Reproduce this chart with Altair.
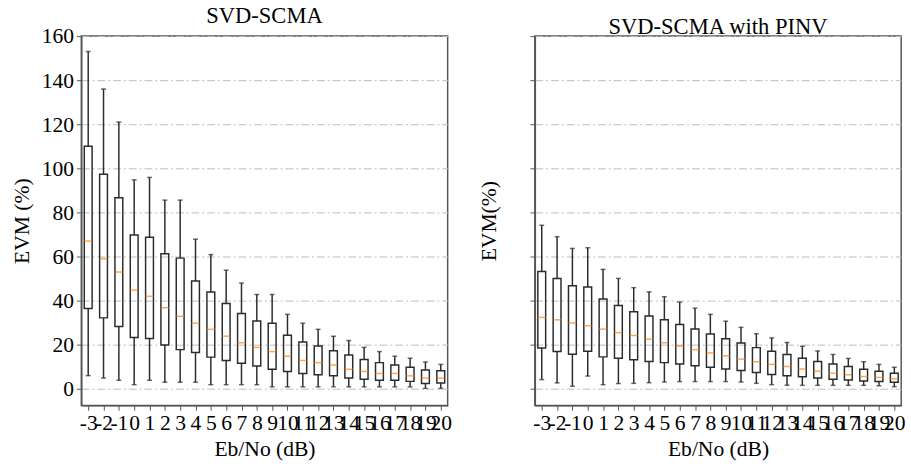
import altair as alt
import pandas as pd

cats = ["-3", "-2", "-1", "0", "1", "2", "3", "4", "5", "6", "7", "8", "9", "10",
        "11", "12", "13", "14", "15", "16", "17", "18", "19", "20"]

# Left panel: SVD-SCMA
l_low = [6, 4.9, 3.9, 1.9, 3.9, 3, 3, 3, 1.9, 1.9, 1.9, 1.9, 0.9, 0.9, 0.9, 0.9, 0.9, 0.9, 0.9, 0.9, 0.9, 0.9, 0.2, 0.2]
l_q1 = [36.4, 32.2, 28.3, 23.3, 22.8, 19.9, 17.8, 16.5, 14.4, 12.9, 11.6, 10.4, 8.9, 7.9, 7, 6.4, 5.9, 4.9, 4.4, 3.9, 3.9, 3.4, 2.4, 2.7]
l_med = [67, 59, 53, 44.8, 42, 36.8, 32.9, 29.8, 27, 23.9, 20.9, 18.8, 16.9, 14.8, 12.9, 11.9, 10.8, 8.9, 7.9, 7, 7, 5.9, 4.9, 4.9]
l_q3 = [110, 97.3, 86.7, 69.8, 68.8, 61.3, 59.3, 48.9, 43.9, 38.7, 34.2, 30.8, 29.8, 24.3, 21.3, 19.4, 17.3, 15.4, 13.3, 11.9, 10.8, 9.8, 8.6, 8.2]
l_up = [153, 136, 121, 94.8, 95.9, 85.6, 85.6, 67.9, 60.9, 53.8, 48, 42.8, 42.8, 33.8, 29.8, 27, 23.9, 21.9, 18.8, 16.9, 14.8, 13.9, 12.2, 11.1]

# Right panel: SVD-SCMA with PINV
r_low = [4.2, 2.7, 1.2, 5.8, 1.9, 2.4, 2.5, 2.8, 3.1, 3.3, 3.3, 3.3, 3.3, 3.1, 2.5, 1.9, 1.6, 1.6, 1.6, 1.6, 1.6, 1.6, 1.4, 1]
r_q1 = [18.5, 16.9, 15.7, 17.1, 14.5, 13.9, 13.2, 12.4, 11.9, 11.3, 10.5, 9.8, 9, 8.3, 7.4, 6.5, 5.9, 5.5, 4.9, 4.4, 4, 3.6, 3.3, 3]
r_med = [32.4, 31.3, 29.9, 28.6, 27.1, 25.5, 24.2, 22.5, 20.9, 19.4, 17.8, 16.3, 15, 13.5, 12.3, 11.1, 10.1, 9, 8, 7.1, 6.4, 5.6, 5.2, 4.6]
r_q3 = [53.2, 50.1, 46.8, 46.2, 40.8, 37.8, 35, 33, 31.3, 29.2, 27.1, 24.9, 22.7, 20.8, 18.7, 17.1, 15.6, 13.9, 12.4, 11.3, 10.1, 8.9, 8, 7.1]
r_up = [74.2, 69, 63.7, 64, 54.2, 50.1, 45.9, 44, 41.8, 39.3, 36.6, 33.8, 30.7, 27.9, 25, 23.1, 21, 19.3, 17.2, 15.6, 13.8, 12.3, 11.1, 9.8]

FONT = "Liberation Serif, Times New Roman, DejaVu Serif, serif"
BOX = "#2b2b2b"
MED = "#ff7f0e"


def panel(low, q1, med, q3, up, title, ytitle, labels, tpad):
    df = pd.DataFrame({"cat": cats, "low": low, "q1": q1, "med": med, "q3": q3, "up": up})
    xs = alt.Scale(type="point", padding=0.45)
    xenc = alt.X("cat:O", sort=cats, scale=xs,
                 axis=alt.Axis(title="Eb/No (dB)", labelAngle=0, labelOverlap=False,
                               gridDash=[5, 3], labelPadding=3, titlePadding=5))
    xo = alt.X("cat:O", sort=cats)
    ysc = alt.Scale(domain=[-7.5, 160], nice=False, zero=False)
    yax = alt.Axis(title=ytitle, values=list(range(0, 161, 20)), labels=labels,
                   gridDash=[8, 3, 2, 3], titlePadding=tpad, labelPadding=3)
    base = alt.Chart(df)
    wlo = base.mark_rule(color=BOX, strokeWidth=1.5).encode(
        x=xenc, y=alt.Y("low:Q", scale=ysc, axis=yax), y2="q1:Q")
    whi = base.mark_rule(color=BOX, strokeWidth=1.5).encode(x=xo, y="q3:Q", y2="up:Q")
    box = base.mark_bar(size=8, fillOpacity=0, stroke=BOX, strokeWidth=1.5).encode(
        x=xo, y="q1:Q", y2="q3:Q")
    cap_lo = base.mark_tick(color=BOX, size=5, thickness=1.5).encode(x=xo, y="low:Q")
    cap_hi = base.mark_tick(color=BOX, size=5, thickness=1.5).encode(x=xo, y="up:Q")
    median = base.mark_tick(color=MED, size=8, thickness=1.5).encode(x=xo, y="med:Q")
    return alt.layer(wlo, whi, box, cap_lo, cap_hi, median).properties(
        width=374, height=377,
        title=alt.TitleParams(title, font=FONT, fontSize=23, fontWeight="normal", color="black", offset=-3))


left = panel(l_low, l_q1, l_med, l_q3, l_up, "SVD-SCMA", "EVM (%)", True, 8)
right = panel(r_low, r_q1, r_med, r_q3, r_up, "SVD-SCMA with PINV", "EVM(%)", False, 30)

chart = alt.hconcat(left, right, spacing=24).properties(
    padding={"left": 10, "top": 0, "right": 5, "bottom": 0}
).configure_view(stroke="#555555", strokeWidth=1.5).configure_axis(
    labelFont=FONT, titleFont=FONT, labelFontSize=22, titleFontSize=22,
    titleFontWeight="normal", labelColor="black", titleColor="black",
    domainColor="#555555", domainWidth=1.5, tickColor="#555555", tickSize=5,
    gridColor="#bbbbbb", gridWidth=1
)

chart.save("out.html", embed_options={"renderer": "svg", "actions": False})
